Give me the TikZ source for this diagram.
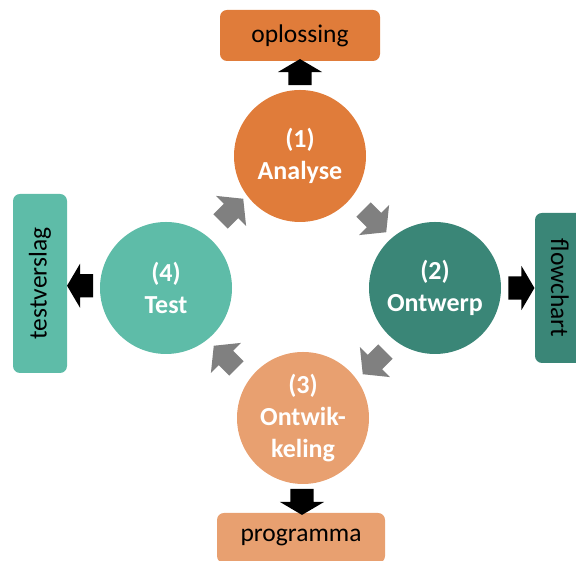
\documentclass[tikz,border=0pt]{standalone}
\usepackage{fontspec}
\setmainfont{Carlito}
\usepackage{tikz}
\usetikzlibrary{shapes.arrows,calc}

\definecolor{analysecol}{HTML}{E07C3A}
\definecolor{ontwerpcol}{HTML}{3A8677}
\definecolor{ontwikcol}{HTML}{E8A070}
\definecolor{testcol}{HTML}{5EBCA8}

\begin{document}
\begin{tikzpicture}[x=1pt,y=1pt,
  phase/.style={circle, minimum size=132pt, inner sep=0pt, text=white,
    font=\fontsize{26}{32}\selectfont\bfseries, align=center},
  result/.style={rounded corners=7pt, inner sep=0pt, text=black,
    font=\fontsize{25.5}{30}\selectfont},
  outarrow/.style={single arrow, fill=black, inner xsep=0pt, inner ysep=11.5pt,
    single arrow head extend=10.5pt, single arrow tip angle=119, minimum height=26pt},
  cyclearrow/.style={single arrow, fill=gray, inner xsep=0pt, inner ysep=10pt,
    single arrow head extend=11pt, single arrow tip angle=102, minimum height=32pt}]
  \clip (0,0) rectangle (576,561);

  % Four phases
  \node[phase, fill=analysecol] (analyse) at (300,405) {(1)\\Analyse};
  \node[phase, fill=ontwerpcol] (ontwerp) at (435,273) {(2)\\Ontwerp};
  \node[phase, fill=ontwikcol] (ontwikkeling) at (303,143) {(3)\\Ontwik-\\keling};
  \node[phase, fill=testcol] (test) at (166,273) {(4)\\Test};

  % Results of each phase
  \node[result, fill=analysecol, minimum width=160pt, minimum height=51pt] (oplossing) at (300,525.5) {oplossing};
  \node[result, fill=ontwerpcol, minimum width=150pt, minimum height=50pt, rotate=-90] (flowchart) at (560,273) {flowchart};
  \node[result, fill=ontwikcol, minimum width=168pt, minimum height=50pt] (programma) at (301,23) {programma};
  \node[result, fill=testcol, minimum width=179pt, minimum height=54pt, rotate=90] (testverslag) at (40,277.5) {testverslag};

  % Black arrows to the results
  \foreach \a/\an/\b/\bn/\rot in {analyse/north/oplossing/south/90,
                                  ontwerp/east/flowchart/south/0,
                                  ontwikkeling/south/programma/north/-90,
                                  test/west/testverslag/south/180} {
    \node[outarrow, rotate=\rot] (to\b) at ($(\a.\an)!0.5!(\b.\bn)$) {};
  }

  % Grey cycle arrows
  \foreach \i/\pos/\rot in {1/{(229,348)}/45, 2/{(372,343)}/-45,
                            3/{(377,201)}/-135, 4/{(228,201)}/135} {
    \node[cyclearrow, rotate=\rot] (cycle\i) at \pos {};
  }
\end{tikzpicture}
\end{document}
